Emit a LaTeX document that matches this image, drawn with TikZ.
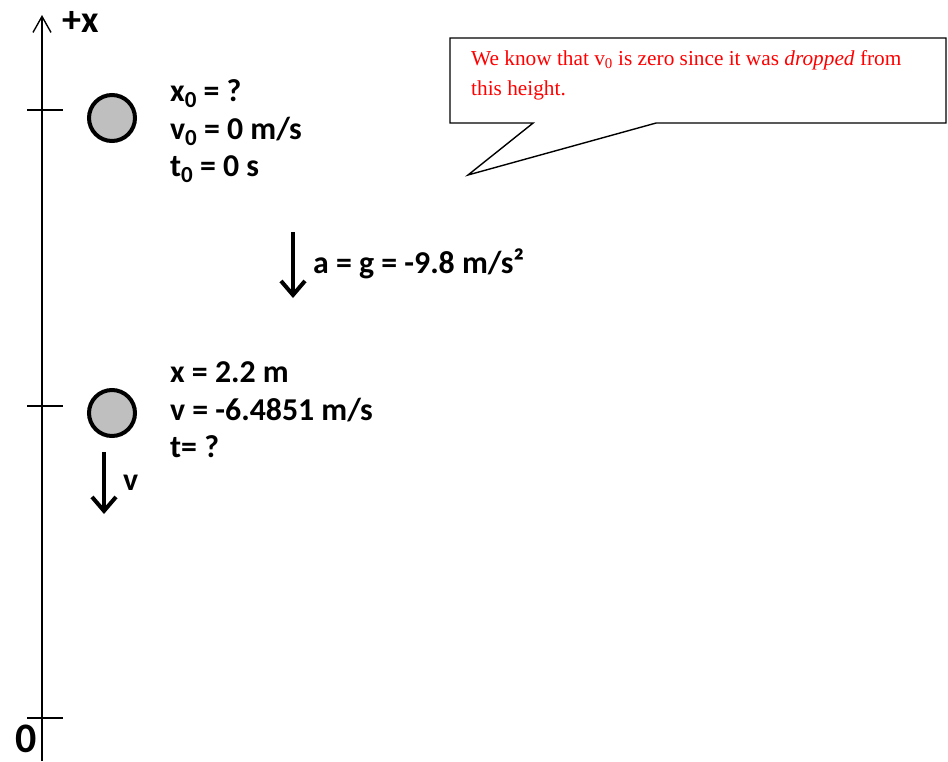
\documentclass[tikz,border=0pt]{standalone}
\usepackage{fontspec}
\setmainfont{Carlito}
\newfontfamily\notefont{Liberation Serif}
\usetikzlibrary{arrows.meta,positioning,calc,shapes.callouts}
\newcommand{\lowsub}[1]{\raisebox{-6pt}{\fontsize{23}{23}\selectfont #1}}
\tikzstyle{ball} = [draw, circle, fill=black!25, line width=4pt, minimum size=46pt, inner sep=0pt]
\tikzstyle{info} = [anchor=base west, inner sep=0pt, font=\bfseries\fontsize{31.8}{37}\selectfont]
\tikzstyle{axis} = [line width=1.4pt]
\tikzstyle{bigarrow} = [line width=4pt, -{Straight Barb[width=24pt,length=14pt]}]
\tikzstyle{bubble} = [draw, rectangle callout, line width=1.4pt, callout pointer width=123pt]
\tikzstyle{note} = [anchor=base west, inner sep=0pt, align=left, text=red, font=\notefont\fontsize{21.3}{30}\selectfont]

\begin{document}
\begin{tikzpicture}[x=1pt, y=-1pt]
    \useasboundingbox (0,0) rectangle (948,761);
    % Axis
    \coordinate (origin) at (42,761);
    \coordinate (top) at (42,15);
    \draw [axis, -{Straight Barb[width=18pt,length=16pt]}] (origin) -- (top);
    \foreach \y in {110,406,718}
        \draw [axis] (27,\y) -- (63,\y);
    \node [anchor=base west, inner sep=0pt, font=\bfseries\fontsize{38}{40}\selectfont] (plusx) at (62,32) {+x};
    \node [anchor=base east, inner sep=0pt, font=\bfseries\fontsize{42}{44}\selectfont] (zero) at (37,752) {0};

    % Start position
    \node [ball] (ball0) at (112,118) {};
    \node [info] (x0) at (170,101) {x\lowsub{0} = ?};
    \node [info] (v0) at (170,139) {v\lowsub{0} = 0 m/s};
    \node [info] (t0) at (170,176) {t\lowsub{0} = 0 s};

    % Acceleration
    \coordinate (atop) at (293,232);
    \coordinate (abot) at (293,298);
    \draw [bigarrow] (atop) -- (abot);
    \node [info] (acc) at (313,273) {a = g = -9.8 m/s²};

    % End position
    \node [ball] (ball1) at (112,413) {};
    \node [info] (x1) at (170,382) {x = 2.2 m};
    \node [info] (v1) at (170,420) {v = -6.4851 m/s};
    \node [info] (t1) at (170,457) {t= ?};
    \coordinate (vtop) at (104,452);
    \coordinate (vbot) at (104,514);
    \draw [bigarrow] (vtop) -- (vbot);
    \node [info] (vlabel) at (123,490) {v};

    % Callout
    \node [bubble, minimum width=496pt, minimum height=85pt, callout absolute pointer={(468,175)}] (box) at (698,80.5) {};
    \node [note] (remark) at (471,95) {We know that v\textsubscript{0} is zero since it was \textit{dropped} from\\this height.};
\end{tikzpicture}
\end{document}
